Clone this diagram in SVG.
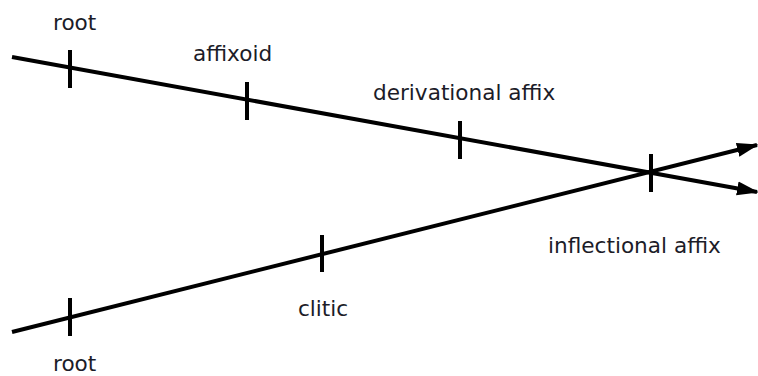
<svg xmlns="http://www.w3.org/2000/svg" width="758" height="376" viewBox="0 0 758 376">
<style>
.ln{stroke:#000;stroke-width:4;fill:none}
.tk{stroke:#000;stroke-width:4}
.lb{font-family:"DejaVu Sans",sans-serif;font-size:21.6px;fill:#1c1c28}
</style>
<defs>
<marker id="ah" markerUnits="userSpaceOnUse" markerWidth="22" markerHeight="16" refX="20" refY="7" orient="auto" viewBox="0 0 22 14">
<path d="M0,0 L22,7 L0,14 z" fill="#000"/>
</marker>
</defs>
<rect width="758" height="376" fill="#fff"/>
<g id="connectors">
<line class="ln" x1="12" y1="57" x2="757" y2="192" marker-end="url(#ah)"/>
<line class="ln" x1="12" y1="332" x2="757" y2="145" marker-end="url(#ah)"/>
</g>
<g id="root-top"><line class="tk" x1="70" y1="50" x2="70" y2="88"/><text class="lb" x="53" y="30">root</text></g>
<g id="affixoid"><line class="tk" x1="247" y1="82" x2="247" y2="120"/><text class="lb" x="193" y="61">affixoid</text></g>
<g id="derivational"><line class="tk" x1="460" y1="121" x2="460" y2="159"/><text class="lb" x="373" y="100">derivational affix</text></g>
<g id="inflectional"><line class="tk" x1="651" y1="154" x2="651" y2="192"/><text class="lb" x="548" y="253">inflectional affix</text></g>
<g id="root-bottom"><line class="tk" x1="70" y1="298" x2="70" y2="336"/><text class="lb" x="53" y="371">root</text></g>
<g id="clitic"><line class="tk" x1="322" y1="235" x2="322" y2="272"/><text class="lb" x="298" y="316">clitic</text></g>
</svg>
